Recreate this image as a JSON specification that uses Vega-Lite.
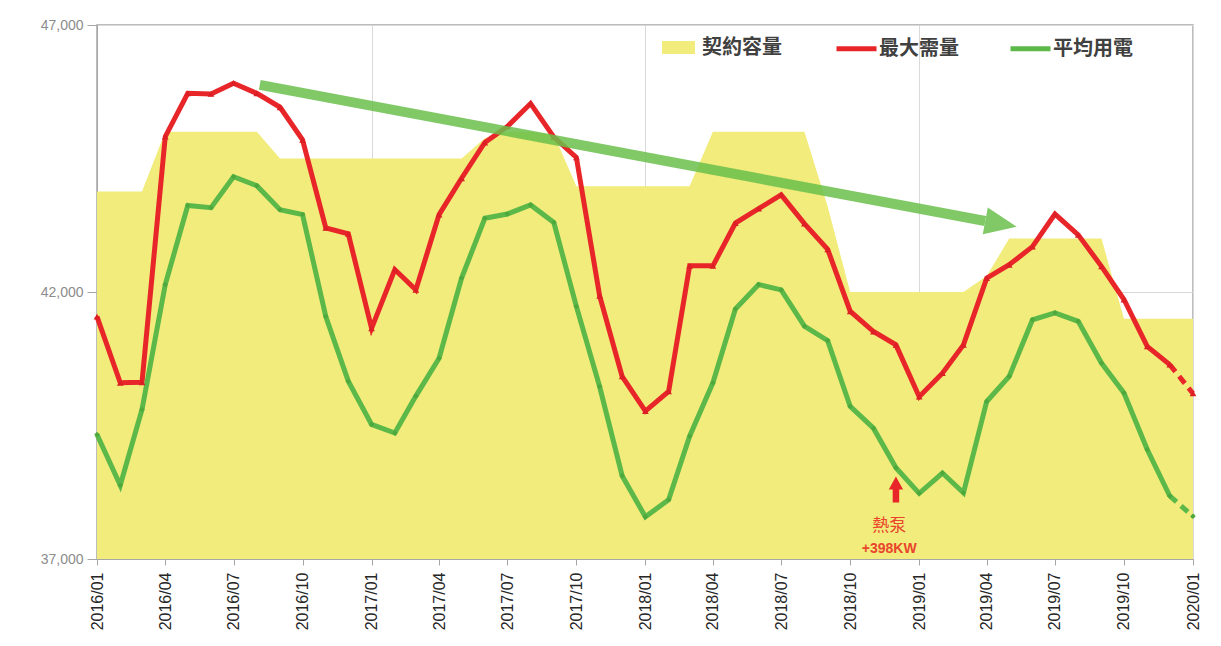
{
  "$schema": "https://vega.github.io/schema/vega-lite/v6.json",
  "width": 1096,
  "height": 534,
  "autosize": {"type": "none"},
  "padding": {"left": 97, "top": 25, "right": 28, "bottom": 87},
  "background": "white",
  "config": {
    "view": {"stroke": "#a6a6a6", "strokeWidth": 1.5},
    "axis": {
      "domainColor": "#a6a6a6",
      "tickColor": "#a6a6a6",
      "gridColor": "#d9d9d9",
      "labelFont": "Liberation Sans",
      "title": null
    }
  },
  "datasets": {
    "monthly": [
      {"month": "2016/01/01", "契約容量": 43880, "最大需量": 41540, "平均用電": 39330},
      {"month": "2016/02/01", "契約容量": 43880, "最大需量": 40300, "平均用電": 38380},
      {"month": "2016/03/01", "契約容量": 43880, "最大需量": 40310, "平均用電": 39800},
      {"month": "2016/04/01", "契約容量": 45000, "最大需量": 44910, "平均用電": 42140},
      {"month": "2016/05/01", "契約容量": 45000, "最大需量": 45720, "平均用電": 43620},
      {"month": "2016/06/01", "契約容量": 45000, "最大需量": 45710, "平均用電": 43580},
      {"month": "2016/07/01", "契約容量": 45000, "最大需量": 45910, "平均用電": 44160},
      {"month": "2016/08/01", "契約容量": 45000, "最大需量": 45720, "平均用電": 43990},
      {"month": "2016/09/01", "契約容量": 44500, "最大需量": 45460, "平均用電": 43540},
      {"month": "2016/10/01", "契約容量": 44500, "最大需量": 44850, "平均用電": 43450},
      {"month": "2016/11/01", "契約容量": 44500, "最大需量": 43200, "平均用電": 41540},
      {"month": "2016/12/01", "契約容量": 44500, "最大需量": 43090, "平均用電": 40330},
      {"month": "2017/01/01", "契約容量": 44500, "最大需量": 41320, "平均用電": 39520},
      {"month": "2017/02/01", "契約容量": 44500, "最大需量": 42420, "平均用電": 39360},
      {"month": "2017/03/01", "契約容量": 44500, "最大需量": 42040, "平均用電": 40050},
      {"month": "2017/04/01", "契約容量": 44500, "最大需量": 43450, "平均用電": 40760},
      {"month": "2017/05/01", "契約容量": 44500, "最大需量": 44130, "平均用電": 42260},
      {"month": "2017/06/01", "契約容量": 44880, "最大需量": 44800, "平均用電": 43380},
      {"month": "2017/07/01", "契約容量": 45000, "最大需量": 45100, "平均用電": 43460},
      {"month": "2017/08/01", "契約容量": 45000, "最大需量": 45530, "平均用電": 43630},
      {"month": "2017/09/01", "契約容量": 44950, "最大需量": 44900, "平均用電": 43300},
      {"month": "2017/10/01", "契約容量": 43980, "最大需量": 44520, "平均用電": 41730},
      {"month": "2017/11/01", "契約容量": 43980, "最大需量": 41930, "平均用電": 40230},
      {"month": "2017/12/01", "契約容量": 43980, "最大需量": 40420, "平均用電": 38560},
      {"month": "2018/01/01", "契約容量": 43980, "最大需量": 39770, "平均用電": 37790},
      {"month": "2018/02/01", "契約容量": 43980, "最大需量": 40140, "平均用電": 38110},
      {"month": "2018/03/01", "契約容量": 43980, "最大需量": 42490, "平均用電": 39300},
      {"month": "2018/04/01", "契約容量": 45000, "最大需量": 42490, "平均用電": 40300},
      {"month": "2018/05/01", "契約容量": 45000, "最大需量": 43290, "平均用電": 41680},
      {"month": "2018/06/01", "契約容量": 45000, "最大需量": 43560, "平均用電": 42140},
      {"month": "2018/07/01", "契約容量": 45000, "最大需量": 43820, "平均用電": 42040},
      {"month": "2018/08/01", "契約容量": 45000, "最大需量": 43280, "平均用電": 41360},
      {"month": "2018/09/01", "契約容量": 43600, "最大需量": 42800, "平均用電": 41090},
      {"month": "2018/10/01", "契約容量": 42000, "最大需量": 41640, "平均用電": 39860},
      {"month": "2018/11/01", "契約容量": 42000, "最大需量": 41260, "平均用電": 39450},
      {"month": "2018/12/01", "契約容量": 42000, "最大需量": 41010, "平均用電": 38710},
      {"month": "2019/01/01", "契約容量": 42000, "最大需量": 40040, "平均用電": 38230},
      {"month": "2019/02/01", "契約容量": 42000, "最大需量": 40480, "平均用電": 38610},
      {"month": "2019/03/01", "契約容量": 42000, "最大需量": 41010, "平均用電": 38240},
      {"month": "2019/04/01", "契約容量": 42300, "最大需量": 42260, "平均用電": 39950},
      {"month": "2019/05/01", "契約容量": 43000, "最大需量": 42510, "平均用電": 40420},
      {"month": "2019/06/01", "契約容量": 43000, "最大需量": 42850, "平均用電": 41480},
      {"month": "2019/07/01", "契約容量": 43000, "最大需量": 43460, "平均用電": 41610},
      {"month": "2019/08/01", "契約容量": 43000, "最大需量": 43070, "平均用電": 41450},
      {"month": "2019/09/01", "契約容量": 43000, "最大需量": 42480, "平均用電": 40670},
      {"month": "2019/10/01", "契約容量": 41500, "最大需量": 41860, "平均用電": 40110},
      {"month": "2019/11/01", "契約容量": 41500, "最大需量": 40980, "平均用電": 39050},
      {"month": "2019/12/01", "契約容量": 41500, "最大需量": 40640, "平均用電": 38180},
      {"month": "2020/01/01", "契約容量": 41500, "最大需量": 40100, "平均用電": 37800}
    ],
    "trend": [
      {"start": "2016/08/05", "startKw": 45880, "end": "2019/03/30", "endKw": 43330, "tip": "2019/05/11", "tipKw": 43220}
    ]
  },
  "layer": [
    {
      "data": {"name": "monthly"},
      "mark": {"type": "area", "interpolate": "linear"},
      "encoding": {
        "x": {
          "field": "month",
          "type": "temporal",
          "scale": {"domain": [{"year": 2016, "month": 1, "date": 1}, {"year": 2020, "month": 1, "date": 1}], "nice": false},
          "axis": {
            "format": "%Y/%m",
            "tickCount": {"interval": "month", "step": 3},
            "labelAngle": -90,
            "labelFontSize": 16,
            "labelColor": "#262626",
            "labelPadding": 7,
            "labelFlush": false,
            "labelOverlap": false,
            "tickSize": 6,
            "grid": true,
            "gridOpacity": {"condition": {"test": "month(datum.value) === 0", "value": 1}, "value": 0}
          }
        },
        "y": {
          "field": "契約容量",
          "type": "quantitative",
          "scale": {"domain": [37000, 47000], "nice": false, "zero": false},
          "axis": {
            "values": [37000, 42000, 47000],
            "format": ",d",
            "labelFontSize": 14,
            "labelColor": "#8c8c8c",
            "tickSize": 10,
            "labelPadding": 4,
            "grid": true
          }
        },
        "y2": {"datum": 37000},
        "fill": {
          "datum": "契約容量",
          "type": "nominal",
          "scale": {"domain": ["契約容量"], "range": ["#f1ec7b"]},
          "legend": {
            "orient": "none",
            "legendX": 565,
            "legendY": 6,
            "title": null,
            "padding": 0,
            "symbolType": "M-1,-0.4H1V0.4H-1Z",
            "symbolSize": 1089,
            "symbolStrokeWidth": 0,
            "symbolOpacity": 1,
            "labelFont": "Noto Sans CJK TC",
            "labelFontSize": 20,
            "labelFontWeight": "bold",
            "labelColor": "#404040",
            "labelOffset": 7
          }
        }
      }
    },
    {
      "data": {"name": "monthly"},
      "transform": [
        {"fold": ["最大需量", "平均用電"], "as": ["series", "kw"]},
        {"filter": {"field": "month", "lte": {"year": 2019, "month": 12, "date": 1}}}
      ],
      "mark": {"type": "line", "strokeWidth": 5},
      "encoding": {
        "x": {"field": "month", "type": "temporal"},
        "y": {"field": "kw", "type": "quantitative"},
        "stroke": {
          "field": "series",
          "type": "nominal",
          "scale": {"domain": ["最大需量", "平均用電"], "range": ["#e8262a", "#5cb848"]},
          "legend": {
            "orient": "none",
            "legendX": 737,
            "legendY": 1,
            "title": null,
            "padding": 0,
            "direction": "horizontal",
            "symbolType": "stroke",
            "symbolSize": 1600,
            "symbolStrokeWidth": 5,
            "labelFont": "Noto Sans CJK TC",
            "labelFontSize": 20,
            "labelFontWeight": "bold",
            "labelColor": "#404040",
            "labelOffset": 0,
            "columnPadding": 41
          }
        }
      }
    },
    {
      "data": {"name": "monthly"},
      "transform": [
        {"fold": ["最大需量", "平均用電"], "as": ["series", "kw"]},
        {"filter": {"field": "month", "gte": {"year": 2019, "month": 12, "date": 1}}}
      ],
      "mark": {"type": "line", "strokeWidth": 5, "strokeDash": [9, 6]},
      "encoding": {
        "x": {"field": "month", "type": "temporal"},
        "y": {"field": "kw", "type": "quantitative"},
        "stroke": {"field": "series", "type": "nominal"}
      }
    },
    {
      "data": {"name": "monthly"},
      "mark": {"type": "point", "filled": true, "opacity": 1, "size": 45, "shape": "triangle-up", "color": "#dc1f24"},
      "encoding": {
        "x": {"field": "month", "type": "temporal"},
        "y": {"field": "最大需量", "type": "quantitative"}
      }
    },
    {
      "data": {"name": "monthly"},
      "mark": {"type": "point", "filled": true, "opacity": 1, "size": 30, "shape": "diamond", "color": "#4ea83c"},
      "encoding": {
        "x": {"field": "month", "type": "temporal"},
        "y": {"field": "平均用電", "type": "quantitative"}
      }
    },
    {
      "data": {"name": "trend"},
      "mark": {"type": "rule", "strokeWidth": 10, "color": "#6abf4b", "opacity": 0.85, "strokeCap": "butt"},
      "encoding": {
        "x": {"field": "start", "type": "temporal"},
        "y": {"field": "startKw", "type": "quantitative"},
        "x2": {"field": "end"},
        "y2": {"field": "endKw"}
      }
    },
    {
      "data": {"name": "trend"},
      "mark": {"type": "point", "filled": true, "shape": "M0,0L-2,-0.85L-2,0.85Z", "size": 1024, "angle": 10.6, "color": "#6abf4b", "opacity": 0.85, "strokeWidth": 0},
      "encoding": {
        "x": {"field": "tip", "type": "temporal"},
        "y": {"field": "tipKw", "type": "quantitative"}
      }
    },
    {
      "data": {"values": [{"month": "2018/12/01", "kw": 38300}]},
      "mark": {"type": "point", "filled": true, "shape": "M-0.25,1V0H-0.55L0,-1L0.55,0H0.25V1Z", "size": 676, "color": "#e8262a", "opacity": 1, "strokeWidth": 0},
      "encoding": {
        "x": {"field": "month", "type": "temporal"},
        "y": {"field": "kw", "type": "quantitative"}
      }
    },
    {
      "data": {"values": [{"month": "2018/11/22", "kw": 37610, "text": "熱泵"}]},
      "mark": {"type": "text", "font": "Noto Sans CJK TC", "fontSize": 17, "color": "#e9452d", "align": "center", "baseline": "middle"},
      "encoding": {
        "x": {"field": "month", "type": "temporal"},
        "y": {"field": "kw", "type": "quantitative"},
        "text": {"field": "text"}
      }
    },
    {
      "data": {"values": [{"month": "2018/11/22", "kw": 37180, "text": "+398KW"}]},
      "mark": {"type": "text", "font": "Liberation Sans", "fontSize": 14, "fontWeight": "bold", "color": "#e9452d", "align": "center", "baseline": "middle"},
      "encoding": {
        "x": {"field": "month", "type": "temporal"},
        "y": {"field": "kw", "type": "quantitative"},
        "text": {"field": "text"}
      }
    }
  ]
}
